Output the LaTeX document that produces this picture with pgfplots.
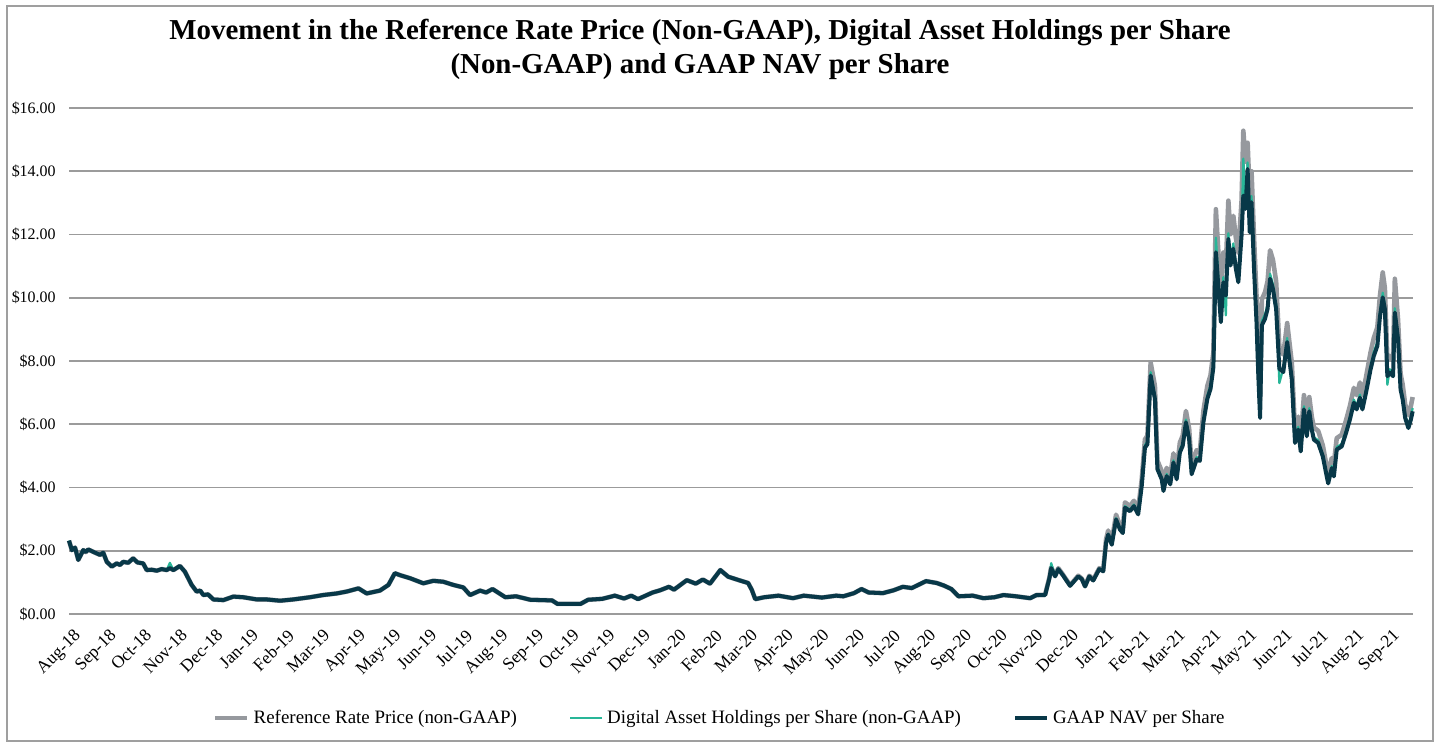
\documentclass[border=0pt]{standalone}
\usepackage{fontspec}
\setmainfont{Liberation Serif}
\usepackage{pgfplots}
\usepackage{pgfplotstable}
\pgfplotsset{compat=1.18}
\definecolor{refgrey}{RGB}{150,153,158}
\definecolor{dahteal}{RGB}{40,182,152}
\definecolor{navnavy}{RGB}{8,56,72}
\definecolor{gridgrey}{RGB}{155,155,155}

\pgfplotstableread{
m ref dah nav
0.00 2.32 2.32 2.32
0.08 2.02 2.02 2.02
0.17 2.10 2.10 2.10
0.26 1.71 1.71 1.71
0.40 2.02 2.02 2.02
0.47 1.96 1.96 1.96
0.54 2.04 2.04 2.04
0.73 1.94 1.94 1.94
0.87 1.87 1.87 1.87
0.96 1.94 1.94 1.94
1.06 1.65 1.65 1.65
1.20 1.50 1.50 1.50
1.34 1.60 1.60 1.60
1.43 1.55 1.55 1.55
1.52 1.65 1.65 1.65
1.66 1.62 1.62 1.62
1.80 1.76 1.76 1.76
1.92 1.63 1.63 1.63
2.08 1.60 1.60 1.60
2.18 1.39 1.39 1.39
2.32 1.40 1.40 1.40
2.46 1.37 1.37 1.37
2.60 1.42 1.42 1.42
2.74 1.39 1.39 1.39
2.83 1.45 1.62 1.45
2.93 1.39 1.39 1.39
3.11 1.52 1.52 1.52
3.25 1.34 1.34 1.34
3.44 0.92 0.92 0.92
3.58 0.71 0.71 0.71
3.68 0.74 0.74 0.74
3.77 0.60 0.60 0.60
3.90 0.62 0.62 0.62
4.05 0.46 0.46 0.46
4.33 0.44 0.44 0.44
4.61 0.55 0.55 0.55
4.89 0.53 0.53 0.53
5.27 0.46 0.46 0.46
5.55 0.46 0.46 0.46
5.92 0.42 0.42 0.42
6.29 0.46 0.46 0.46
6.76 0.53 0.53 0.53
7.13 0.60 0.60 0.60
7.51 0.65 0.65 0.65
7.79 0.71 0.71 0.71
8.12 0.81 0.81 0.81
8.35 0.65 0.65 0.65
8.72 0.74 0.74 0.74
8.96 0.92 0.92 0.92
9.14 1.29 1.29 1.29
9.28 1.23 1.23 1.23
9.57 1.13 1.13 1.13
9.94 0.97 0.97 0.97
10.22 1.05 1.05 1.05
10.50 1.02 1.02 1.02
10.78 0.92 0.92 0.92
11.06 0.84 0.84 0.84
11.25 0.60 0.60 0.60
11.53 0.74 0.74 0.74
11.70 0.68 0.68 0.68
11.88 0.79 0.79 0.79
12.24 0.53 0.53 0.53
12.54 0.56 0.56 0.56
12.94 0.45 0.45 0.45
13.55 0.43 0.43 0.43
13.70 0.32 0.32 0.32
14.35 0.32 0.32 0.32
14.56 0.45 0.45 0.45
14.96 0.48 0.48 0.48
15.31 0.58 0.58 0.58
15.57 0.49 0.49 0.49
15.77 0.58 0.58 0.58
15.96 0.47 0.47 0.47
16.37 0.68 0.68 0.68
16.58 0.75 0.75 0.75
16.83 0.86 0.86 0.86
16.97 0.77 0.77 0.77
17.33 1.07 1.07 1.07
17.58 0.96 0.96 0.96
17.78 1.09 1.09 1.09
17.98 0.96 0.96 0.96
18.27 1.39 1.39 1.39
18.49 1.18 1.18 1.18
18.79 1.07 1.07 1.07
19.05 0.98 0.98 0.98
19.15 0.77 0.77 0.77
19.25 0.47 0.47 0.47
19.50 0.53 0.53 0.53
19.90 0.58 0.58 0.58
20.31 0.50 0.50 0.50
20.61 0.58 0.58 0.58
21.12 0.52 0.52 0.52
21.52 0.58 0.58 0.58
21.72 0.56 0.56 0.56
22.02 0.66 0.66 0.66
22.23 0.79 0.79 0.79
22.43 0.68 0.68 0.68
22.83 0.66 0.66 0.66
23.13 0.75 0.75 0.75
23.39 0.86 0.86 0.86
23.64 0.82 0.82 0.82
24.04 1.04 1.04 1.04
24.34 0.98 0.98 0.98
24.54 0.90 0.90 0.90
24.75 0.79 0.79 0.79
24.95 0.56 0.56 0.56
25.35 0.58 0.58 0.58
25.65 0.50 0.50 0.50
25.96 0.53 0.53 0.53
26.21 0.60 0.60 0.60
26.56 0.56 0.56 0.56
26.96 0.50 0.50 0.50
27.14 0.60 0.60 0.60
27.38 0.61 0.60 0.60
27.50 1.15 1.13 1.13
27.55 1.48 1.61 1.45
27.66 1.21 1.20 1.19
27.75 1.45 1.43 1.42
27.89 1.23 1.22 1.21
28.08 0.91 0.90 0.89
28.31 1.21 1.20 1.19
28.41 1.12 1.11 1.10
28.50 0.89 0.88 0.87
28.62 1.21 1.20 1.19
28.73 1.08 1.07 1.06
28.90 1.45 1.43 1.42
29.01 1.38 1.36 1.35
29.09 2.36 2.28 2.25
29.15 2.64 2.54 2.51
29.25 2.30 2.22 2.19
29.37 3.14 3.03 2.99
29.48 2.80 2.71 2.67
29.56 2.69 2.60 2.56
29.62 3.53 3.41 3.36
29.76 3.41 3.30 3.25
29.87 3.58 3.46 3.41
29.99 3.31 3.20 3.15
30.09 4.25 4.11 4.05
30.18 5.52 5.34 5.26
30.25 5.64 5.45 5.37
30.34 7.95 7.65 7.54
30.46 7.21 6.90 6.80
30.53 4.85 4.65 4.58
30.65 4.52 4.32 4.26
30.70 4.12 3.95 3.89
30.79 4.62 4.43 4.36
30.89 4.35 4.16 4.10
30.98 5.08 4.86 4.79
31.07 4.52 4.32 4.26
31.16 5.42 5.19 5.11
31.24 5.64 5.40 5.32
31.33 6.42 6.15 6.06
31.42 5.86 5.61 5.53
31.49 4.69 4.49 4.42
31.63 5.18 4.96 4.89
31.72 5.13 4.91 4.84
31.82 6.42 6.15 6.06
31.93 7.21 6.90 6.80
32.02 7.55 7.23 7.12
32.10 8.27 7.92 7.80
32.17 12.80 11.90 11.44
32.31 10.06 9.37 9.23
32.38 11.43 10.65 10.49
32.45 10.98 9.44 10.07
32.52 13.07 12.04 11.86
32.58 12.01 11.19 11.02
32.66 12.59 11.72 11.55
32.73 11.90 11.08 10.92
32.80 11.43 10.65 10.49
32.89 13.05 12.15 11.97
32.94 15.28 14.40 13.23
33.00 14.30 13.00 12.81
33.06 14.90 14.28 14.07
33.12 13.20 12.25 12.07
33.17 14.00 13.22 13.02
33.24 11.90 11.08 10.92
33.31 10.06 9.37 9.23
33.36 8.23 7.66 7.55
33.41 6.76 6.29 6.20
33.46 9.95 9.27 9.13
33.55 10.18 9.48 9.34
33.62 10.52 9.79 9.65
33.69 11.50 10.76 10.60
33.77 11.20 10.43 10.28
33.86 10.52 9.79 9.65
33.95 8.46 7.30 7.76
34.06 8.20 7.76 7.65
34.17 9.20 8.73 8.60
34.30 7.94 7.20 7.42
34.39 5.79 5.49 5.41
34.48 6.24 5.92 5.83
34.55 5.50 5.22 5.14
34.64 6.92 6.57 6.47
34.72 6.01 5.70 5.62
34.79 6.86 6.51 6.41
34.86 6.24 5.92 5.83
34.92 5.90 5.59 5.51
35.04 5.79 5.49 5.41
35.17 5.33 5.05 4.98
35.28 4.65 4.42 4.35
35.32 4.45 4.19 4.13
35.42 4.93 4.68 4.61
35.48 4.75 4.42 4.35
35.56 5.56 5.28 5.20
35.70 5.67 5.38 5.30
35.82 6.12 5.81 5.72
35.93 6.58 6.24 6.15
36.04 7.15 6.78 6.68
36.12 6.92 6.57 6.47
36.21 7.32 6.94 6.84
36.28 6.92 6.57 6.47
36.38 7.48 7.09 6.99
36.51 8.28 7.86 7.74
36.60 8.73 8.28 8.16
36.70 9.07 8.61 8.48
36.77 10.04 9.52 9.38
36.85 10.80 10.16 10.01
36.91 10.31 9.78 9.64
36.98 8.05 7.25 7.52
37.05 8.16 7.74 7.63
37.14 8.05 7.63 7.52
37.19 10.60 9.67 9.53
37.28 9.30 8.82 8.69
37.35 7.60 7.21 7.10
37.41 7.25 6.88 6.78
37.48 6.63 6.29 6.20
37.57 6.29 5.97 5.88
37.64 6.58 6.24 6.15
37.69 6.86 6.51 6.41
}\data

\begin{document}
\begin{tikzpicture}[x=1bp,y=1bp]
\useasboundingbox (0,0) rectangle (720,371);
\draw[gray!75, line width=0.6bp] (3.5,0.5) rectangle (716.5,368);
\node[font=\fontsize{14.5}{17}\selectfont\bfseries, align=center, inner sep=0pt] at (350,346.5) {Movement in the Reference Rate Price (Non-GAAP), Digital Asset Holdings per Share\\(Non-GAAP) and GAAP NAV per Share};
\begin{axis}[
  at={(34.5bp,64bp)}, anchor=south west,
  scale only axis, width=672bp, height=253bp,
  xmin=0, xmax=37.7, ymin=0, ymax=16,
  axis line style={draw=none},
  major tick length=0pt,
  ytick={0,2,4,6,8,10,12,14,16},
  yticklabels={\$0.00,\$2.00,\$4.00,\$6.00,\$8.00,\$10.00,\$12.00,\$14.00,\$16.00},
  yticklabel style={font=\fontsize{8}{9}\selectfont, anchor=east, inner sep=0pt, xshift=-6.5bp},
  xtick={0,1,...,37},
  xticklabels={Aug-18,Sep-18,Oct-18,Nov-18,Dec-18,Jan-19,Feb-19,Mar-19,Apr-19,May-19,Jun-19,Jul-19,Aug-19,Sep-19,Oct-19,Nov-19,Dec-19,Jan-20,Feb-20,Mar-20,Apr-20,May-20,Jun-20,Jul-20,Aug-20,Sep-20,Oct-20,Nov-20,Dec-20,Jan-21,Feb-21,Mar-21,Apr-21,May-21,Jun-21,Jul-21,Aug-21,Sep-21},
  xticklabel style={font=\fontsize{8.8}{10}\selectfont, rotate=45, anchor=north east, inner sep=0pt, xshift=-3.5bp, yshift=-6.2bp},
  ymajorgrids, grid style={gridgrey, line width=0.9bp},
  legend columns=3,
  legend style={at={(0.485,-0.2055)}, anchor=center, draw=none, fill=none,
    font=\fontsize{9.5}{11}\selectfont,
    /tikz/every even column/.append style={column sep=24bp}},
  legend cell align=left,
  legend image code/.code={\draw[#1] (0bp,0bp) -- (16bp,0bp);},
  every axis plot/.append style={line join=round},
  clip=false,
]
\addplot[refgrey, line width=2.3bp] table[x=m, y=ref] {\data};
\addlegendentry{Reference Rate Price (non-GAAP)}
\addplot[dahteal, line width=1.1bp] table[x=m, y=dah] {\data};
\addlegendentry{Digital Asset Holdings per Share (non-GAAP)}
\addplot[navnavy, line width=2bp] table[x=m, y=nav] {\data};
\addlegendentry{GAAP NAV per Share}
\end{axis}
\end{tikzpicture}
\end{document}
